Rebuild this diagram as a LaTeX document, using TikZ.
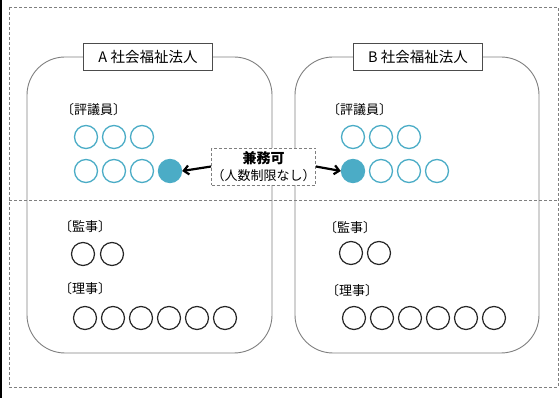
\documentclass[tikz,border=0pt]{standalone}
\usepackage{fontspec}
\newfontfamily\jpfont{Noto Sans CJK JP}
\usetikzlibrary{arrows.meta}
\definecolor{aqua}{HTML}{4BACC6}
\definecolor{framegray}{HTML}{7F7F7F}
\begin{document}
\begin{tikzpicture}[x=1pt,y=-1pt,
  member/.style={circle,draw=aqua,line width=1.3pt,minimum size=23pt,inner sep=0pt},
  shared/.style={member,fill=aqua},
  officer/.style={circle,draw=black!85,line width=1.2pt,minimum size=23pt,inner sep=0pt},
  role/.style={font=\jpfont\fontsize{13}{15}\selectfont,anchor=west,inner sep=0pt},
  corp/.style={draw=black!70,fill=white,font=\jpfont\fontsize{14.5}{16}\selectfont,
    minimum width=129pt,minimum height=27pt,inner sep=0pt},
  dashline/.style={draw=framegray,line width=0.8pt,dash pattern=on 3pt off 2pt},
  sharebox/.style={dashline,fill=white,align=center,inner sep=0pt,
    minimum width=103pt,minimum height=37pt,font=\jpfont\fontsize{13}{17}\selectfont},
  link/.style={-{Straight Barb[length=5pt,width=9pt]},line width=2.2pt}]
\useasboundingbox (0,0) rectangle (560,398);
\fill[black] (0,0) rectangle (2,398);

\draw[dashline] (9,7) rectangle (558,387);
\draw[dashline] (9,200) -- (558,200);

\draw[framegray,line width=0.9pt,rounded corners=38pt] (27,57) rectangle (272,353);
\draw[framegray,line width=0.9pt,rounded corners=38pt] (295,57) rectangle (539,353);

\draw (148,57) node[corp] (corpA) {A 社会福祉法人};
\draw (418,57) node[corp] (corpB) {B 社会福祉法人};

% council
\draw (61,110) node[role] (councilA) {〔評議員〕};
\draw (327,110) node[role] (councilB) {〔評議員〕};
\foreach \i/\x in {1/86,2/114,3/142} {
  \draw (\x,137) node[member] (a1\i) {};
  \draw (\x,171) node[member] (a2\i) {};
}
\draw (170,171) node[shared] (a24) {};
\draw (353,171) node[shared] (b21) {};
\foreach \i/\x in {1/353,2/381,3/409} {
  \draw (\x,137) node[member] (b1\i) {};
}
\foreach \i/\x in {2/381,3/409,4/437} {
  \draw (\x,171) node[member] (b2\i) {};
}

\draw (263.5,166.5) node[sharebox] (share)
  {{\fontsize{14}{17}\selectfont\textbf{兼務可}}\\（人数制限なし）};
\draw[link] (share.west) -- (a24.east);
\draw[link] (share.east) -- (b21.west);

% auditors
\draw (59,227) node[role] (auditA) {〔監事〕};
\draw (324,228) node[role] (auditB) {〔監事〕};
\foreach \i/\x in {1/83,2/112} \draw (\x,254) node[officer] (ka\i) {};
\foreach \i/\x in {1/351,2/379} \draw (\x,253) node[officer] (kb\i) {};

% directors
\draw (59,289) node[role] (boardA) {〔理事〕};
\draw (326,291) node[role] (boardB) {〔理事〕};
\foreach \i in {0,...,5} {
  \draw (85+28*\i,318) node[officer] (ra\i) {};
  \draw (354+28*\i,318) node[officer] (rb\i) {};
}

\end{tikzpicture}
\end{document}
